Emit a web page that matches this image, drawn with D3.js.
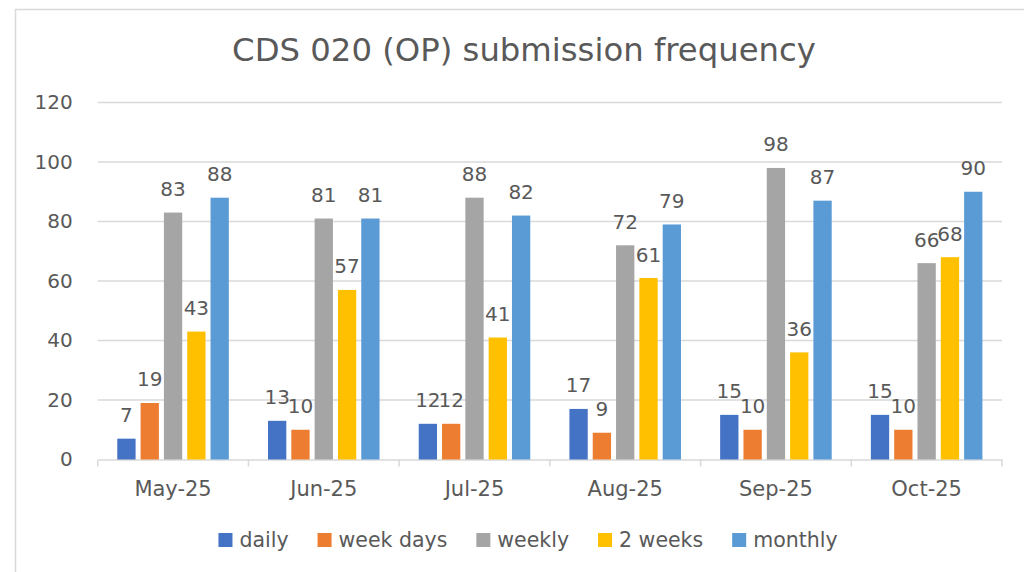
<!DOCTYPE html>
<html>
<head>
<meta charset="utf-8">
<script src="https://cdn.jsdelivr.net/npm/d3@7"></script>
<style>
  body { margin: 0; background: #fff; }
  text { font-family: "DejaVu Sans", sans-serif; fill: #595959; }
</style>
</head>
<body>
<div id="chart"></div>
<script>
// chart data
const months = ['May-25', 'Jun-25', 'Jul-25', 'Aug-25', 'Sep-25', 'Oct-25'];
const seriesNames = ['daily', 'week days', 'weekly', '2 weeks', 'monthly'];
const daily    = [7, 13, 12, 17, 15, 15];
const weekDays = [19, 10, 12, 9, 10, 10];
const weekly   = [83, 81, 88, 72, 98, 66];
const twoWeeks = [43, 57, 41, 61, 36, 68];
const monthly  = [88, 81, 82, 79, 87, 90];
const yTicks = [0, 20, 40, 60, 80, 100, 120];

const seriesValues = [daily, weekDays, weekly, twoWeeks, monthly];
const colors = ['#4472C4', '#ED7D31', '#A5A5A5', '#FFC000', '#5B9BD5'];

var width = 1024, height = 572;
var plot = {left: 97.7, right: 1002, top: 102.5, bottom: 459.5};

var svg = d3.select("#chart")
    .append("svg")
    .attr("width", width)
    .attr("height", height);

// outer frame (only top and left edges are visible in the picture)
svg.append("rect")
    .attr("x", 15.5).attr("y", 9.5)
    .attr("width", 1200).attr("height", 800)
    .attr("fill", "none")
    .attr("stroke", "#d9d9d9")
    .attr("stroke-width", 1.5);

var x0 = d3.scaleBand()
    .domain(months)
    .range([plot.left, plot.right])
    .padding(0);

var x1 = d3.scaleBand()
    .domain(seriesNames)
    .range([0, x0.bandwidth()])
    .paddingInner(0.215)
    .paddingOuter(0.84);

var y = d3.scaleLinear()
    .domain([0, 120])
    .range([plot.bottom, plot.top]);

// gridlines
svg.append("g")
    .selectAll("line")
    .data(yTicks.filter(d => d > 0))
    .enter()
    .append("line")
    .attr("x1", plot.left).attr("x2", plot.right)
    .attr("y1", d => y(d)).attr("y2", d => y(d))
    .attr("stroke", "#d9d9d9")
    .attr("stroke-width", 1.5);

// y axis labels
var yAxis = svg.append("g")
    .attr("transform", "translate(" + plot.left + ",0)")
    .call(d3.axisLeft(y).tickValues(yTicks).tickSize(0).tickPadding(25));
yAxis.select(".domain").remove();
yAxis.selectAll("text")
    .style("font-family", "DejaVu Sans")
    .style("font-size", "20px")
    .attr("fill", "#595959");

// x axis
var xAxis = svg.append("g")
    .attr("transform", "translate(0," + plot.bottom + ")")
    .call(d3.axisBottom(x0).tickSize(0).tickPadding(22));
xAxis.select(".domain")
    .attr("stroke", "#d9d9d9")
    .attr("stroke-width", 1.5);
xAxis.selectAll("text")
    .style("font-family", "DejaVu Sans")
    .style("font-size", "21px")
    .attr("fill", "#595959");

// tick marks between categories
var boundaries = months.map(m => x0(m)).concat([x0(months[months.length - 1]) + x0.bandwidth()]);
svg.append("g")
    .selectAll("line")
    .data(boundaries)
    .enter()
    .append("line")
    .attr("x1", d => d).attr("x2", d => d)
    .attr("y1", plot.bottom).attr("y2", plot.bottom + 7)
    .attr("stroke", "#d9d9d9")
    .attr("stroke-width", 1.5);

// bars
var barData = [];
months.forEach((m, mi) => {
    seriesNames.forEach((s, si) => {
        barData.push({month: m, series: s, value: seriesValues[si][mi], color: colors[si]});
    });
});

svg.append("g")
    .selectAll("rect")
    .data(barData)
    .enter()
    .append("rect")
    .attr("x", d => x0(d.month) + x1(d.series))
    .attr("y", d => y(d.value))
    .attr("width", x1.bandwidth())
    .attr("height", d => y(0) - y(d.value))
    .attr("fill", d => d.color);

// value labels
svg.append("g")
    .selectAll("text")
    .data(barData)
    .enter()
    .append("text")
    .attr("x", d => x0(d.month) + x1(d.series) + x1.bandwidth() / 2)
    .attr("y", d => y(d.value) - 16.5)
    .attr("text-anchor", "middle")
    .style("font-size", "20px")
    .text(d => d.value);

// title
svg.append("text")
    .attr("x", 524)
    .attr("y", 61)
    .attr("text-anchor", "middle")
    .style("font-size", "32.3px")
    .text("CDS 020 (OP) submission frequency");

// legend
var legend = svg.append("g");
var items = legend.selectAll("g")
    .data(seriesNames)
    .enter()
    .append("g");
items.append("rect")
    .attr("width", 14).attr("height", 14)
    .attr("y", 533)
    .attr("fill", (d, i) => colors[i]);
items.append("text")
    .attr("x", 21)
    .attr("y", 547)
    .style("font-size", "20.5px")
    .text(d => d);

var offset = 0;
var offsets = [];
items.each(function() {
    var w = d3.select(this).select("text").node().getComputedTextLength();
    offsets.push(offset);
    offset += 21 + w + 29;
});
var totalW = offset - 29;
var startX = 528 - totalW / 2;
items.attr("transform", (d, i) => "translate(" + (startX + offsets[i]) + ",0)");
</script>
</body>
</html>
